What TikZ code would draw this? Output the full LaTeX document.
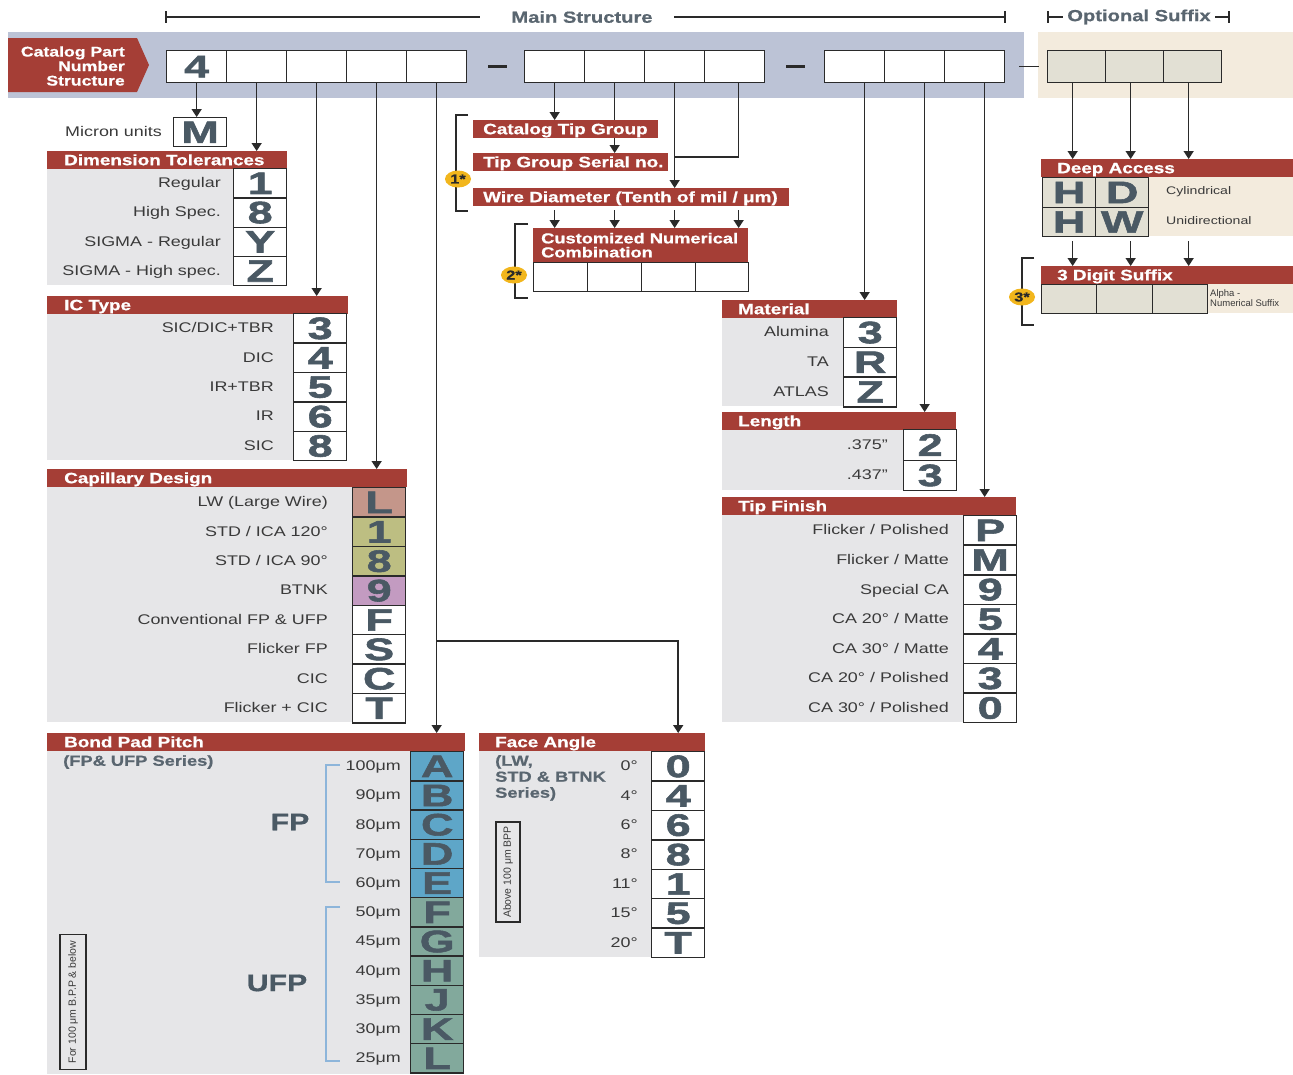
\documentclass[tikz,border=0pt]{standalone}
\usepackage{fontspec}
\usetikzlibrary{arrows.meta,calc,shapes.geometric}
\newfontfamily\hfam[FakeStretch=1.28]{Liberation Sans}
\newfontfamily\hbfam[FakeStretch=1.26,FakeBold=0.7]{Liberation Sans}
\newfontfamily\bigfam[FakeStretch=1.45,FakeBold=1.8]{Liberation Sans}
\newfontfamily\smfam{Liberation Sans}
\newcommand\myhf{\hbfam\bfseries\fontsize{15}{17}\selectfont}
\newcommand\mylf{\hfam\fontsize{14}{16}\selectfont}
\newcommand\mybigf{\bigfam\bfseries\fontsize{31}{31}\selectfont}
\newcommand\mysbf{\hbfam\bfseries\fontsize{14.5}{16}\selectfont}
\newcommand\mymsf{\hbfam\bfseries\fontsize{16}{18}\selectfont}
\newcommand\mycpf{\hbfam\bfseries\fontsize{14}{14.5}\selectfont}
\newcommand\myfpf{\hbfam\bfseries\fontsize{24}{24}\selectfont}
\newcommand\myrotf{\smfam\fontsize{10.5}{12}\selectfont}
\newcommand\mydaf{\hfam\fontsize{11}{13}\selectfont}
\newcommand\mytinyf{\smfam\fontsize{9.5}{10.5}\selectfont}
\newcommand\mybdf{\hbfam\bfseries\fontsize{13}{13}\selectfont}
\definecolor{rd}{HTML}{A53E36}
\definecolor{pan}{HTML}{E6E6E8}
\definecolor{band}{HTML}{BCC3D6}
\definecolor{beige}{HTML}{F3EBDD}
\definecolor{cellb}{HTML}{E2E0D4}
\definecolor{ltr}{HTML}{4A5964}
\definecolor{labc}{HTML}{3A3A3A}
\definecolor{subc}{HTML}{5A6670}
\definecolor{cL}{HTML}{C4968A}
\definecolor{cOl}{HTML}{BDBE82}
\definecolor{cPu}{HTML}{C39BC1}
\definecolor{cBl}{HTML}{5EA6C8}
\definecolor{cTe}{HTML}{82A99C}
\definecolor{brk}{HTML}{8DB5DA}
\definecolor{ylw}{HTML}{F2B61C}
\definecolor{ln}{HTML}{2A2A2A}
\pgfdeclarelayer{back}
\pgfdeclarelayer{lines}
\pgfsetlayers{back,lines,main}
\tikzset{
 cell/.style={draw=ln, line width=1.4pt, fill=white, minimum width=53pt, minimum height=29.4pt, inner sep=0pt, anchor=north west, text=ltr, font=\mybigf},
 lab/.style={anchor=east, text=labc, font=\mylf, inner sep=0pt, text height=10pt, text depth=0pt},
 hdrbox/.style={fill=rd, text=white, font=\myhf, anchor=north west, inner sep=0pt, minimum height=18pt, text height=11pt, text depth=1pt},
 arr/.style={draw=ln, line width=1.5pt, -{Triangle[width=10pt,length=8pt]}},
 conn/.style={draw=ln, line width=1.5pt},
 topbox/.style={draw=ln, line width=1.3pt, fill=white, minimum width=60pt, minimum height=32pt, inner sep=0pt, anchor=north west, font=\mybigf, text=ltr},
 sufbox/.style={topbox, fill=cellb, minimum width=58pt},
 badge/.style={ellipse, fill=ylw, minimum width=26pt, minimum height=17pt, inner sep=0pt, font=\mybdf, text=ln},
 brkt/.style={draw=ln, line width=1.5pt},
 rotbox/.style={draw=ln, line width=1.3pt, rotate=90, font=\myrotf, text=labc, inner sep=1pt},
}
\newcommand\myhdr[6]{\node[hdrbox] (#1) at (#2,#3) {\hbox to #4pt{\hspace{#5pt}#6\hfil}};}
\begin{document}
\begin{tikzpicture}[x=1pt,y=-1pt]
\useasboundingbox (0,0) rectangle (1293,1074);
\begin{pgfonlayer}{back}
\fill[white] (0,0) rectangle (1293,1074);
\fill[band] (8,32) rectangle (1024,98);
\fill[beige] (1038,32) rectangle (1293,98);
\fill[rd] (8,38) -- (137,38) -- (149,65) -- (137,92) -- (8,92) -- cycle;
\fill[pan] (47,168) rectangle (285,285);
\fill[pan] (47,313) rectangle (346,460);
\fill[pan] (47,487) rectangle (405,722);
\fill[pan] (47,751) rectangle (463,1074);
\fill[pan] (479,751) rectangle (704,957);
\fill[pan] (722,317) rectangle (895,406);
\fill[pan] (722,429) rectangle (955,490);
\fill[pan] (722,515) rectangle (1015,722);
\fill[beige] (1095,177) rectangle (1293,236);
\fill[beige] (1207,284) rectangle (1293,313);
\end{pgfonlayer}

% titles
\node[font=\mymsf, text=subc] (mst) at (582,17) {Main Structure};
\draw[ln, line width=1.2pt] (166,17) -- ($(mst.west)+(-28,0)$);
\draw[ln, line width=1.2pt] (166,11) -- (166,23);
\draw[ln, line width=1.2pt] ($(mst.east)+(18,0)$) -- (1005,17);
\draw[ln, line width=1.2pt] (1005,11) -- (1005,23);
\node[font=\mymsf, text=subc] (osf) at (1139,17) {Optional Suffix};
\draw[ln, line width=1.2pt] (1048,11) -- (1048,23);
\draw[ln, line width=1.2pt] (1048,17) -- ($(osf.west)+(-1,0)$);
\draw[ln, line width=1.2pt] ($(osf.east)+(1,0)$) -- (1229,17);
\draw[ln, line width=1.2pt] (1229,11) -- (1229,23);

\node[anchor=east, align=right, text=white, font=\mycpf, inner sep=0pt] (cpn) at (125,66) {Catalog Part\\Number\\Structure};

% top boxes
\node[topbox] (g1a) at (166,50) {4};
\node[topbox] (g1b) at (226,50) {};
\node[topbox] (g1c) at (286,50) {};
\node[topbox] (g1d) at (346,50) {};
\node[topbox] (g1e) at (406,50) {};
\node[topbox] (g2a) at (524,50) {};
\node[topbox] (g2b) at (584,50) {};
\node[topbox] (g2c) at (644,50) {};
\node[topbox] (g2d) at (704,50) {};
\node[topbox] (g3a) at (824,50) {};
\node[topbox] (g3b) at (884,50) {};
\node[topbox] (g3c) at (944,50) {};
\node[sufbox] (g4a) at (1047,50) {};
\node[sufbox] (g4b) at (1105,50) {};
\node[sufbox] (g4c) at (1163,50) {};
\draw[ln, line width=2.5pt] ($(g1e.east)+(21,0)$) -- ($(g1e.east)+(40,0)$);
\draw[ln, line width=2.5pt] ($(g2d.east)+(21,0)$) -- ($(g2d.east)+(40,0)$);
\draw[ln, line width=1.5pt] ($(g3c.east)+(14,0)$) -- ($(g3c.east)+(34,0)$);

% Micron units
\node[cell, minimum height=29pt] (mu) at (173,117) {M};
\node[lab] at (162,131) {Micron units};

% Dimension Tolerances
\myhdr{dth}{47}{151}{240}{17}{Dimension Tolerances}
\foreach \lbl/\ltr [count=\i] in {{Regular}/1,{High Spec.}/8,{SIGMA - Regular}/Y,{SIGMA - High spec.}/Z}{
  \node[cell, minimum height=29.25pt] (dt\i) at (233,{168+(\i-1)*29.25}) {\ltr};
  \node[lab] at (221,{168+(\i-0.5)*29.25}) {\lbl};
}

% IC Type
\myhdr{ich}{47}{296}{301}{17}{IC Type}
\foreach \lbl/\ltr [count=\i] in {{SIC/DIC+TBR}/3,{DIC}/4,{IR+TBR}/5,{IR}/6,{SIC}/8}{
  \node[cell] (ic\i) at (293,{313+(\i-1)*29.4}) {\ltr};
  \node[lab] at (274,{313+(\i-0.5)*29.4}) {\lbl};
}

% Capillary Design
\myhdr{caph}{47}{469}{360}{17}{Capillary Design}
\foreach \lbl/\ltr/\fc [count=\i] in {{LW (Large Wire)}/L/cL,{STD / ICA 120°}/1/cOl,{STD / ICA 90°}/8/cOl,{BTNK}/9/cPu,{Conventional FP \& UFP}/F/white,{Flicker FP}/S/white,{CIC}/C/white,{Flicker + CIC}/T/white}{
  \node[cell, fill=\fc] (cap\i) at (352,{487+(\i-1)*29.4}) {\ltr};
  \node[lab] at (328,{487+(\i-0.5)*29.4}) {\lbl};
}

% Bond Pad Pitch
\myhdr{bpph}{47}{733}{418}{17}{Bond Pad Pitch}
\node[anchor=west, font=\mysbf, text=subc, inner sep=0pt] (bpsub) at (63,762) {(FP\& UFP Series)};
\foreach \lbl/\ltr/\fc [count=\i] in {{100μm}/A/cBl,{90μm}/B/cBl,{80μm}/C/cBl,{70μm}/D/cBl,{60μm}/E/cBl,{50μm}/F/cTe,{45μm}/G/cTe,{40μm}/H/cTe,{35μm}/J/cTe,{30μm}/K/cTe,{25μm}/L/cTe}{
  \node[cell, fill=\fc, minimum height=29.2pt] (bp\i) at (410,{751+(\i-1)*29.2}) {\ltr};
  \node[lab] at (401,{751+(\i-0.5)*29.2}) {\lbl};
}
\draw[brk, line width=1.3pt] (340,765) -- (326,765) -- (326,882) -- (340,882);
\draw[brk, line width=1.3pt] (340,907) -- (326,907) -- (326,1061) -- (340,1061);
\node[font=\myfpf, text=ltr] (fpt) at (290,822) {FP};
\node[font=\myfpf, text=ltr] (ufpt) at (277,983) {UFP};
\node[rotbox, minimum width=135pt, minimum height=26pt] (bpnote) at (73,1002) {For 100 μm B.P.P \& below};

% Face Angle
\myhdr{fah}{479}{733}{226}{16}{Face Angle}
\node[anchor=north west, align=left, font=\mysbf, text=subc, inner sep=0pt] (fasub) at (495,755) {(LW,\\STD \& BTNK\\Series)};
\foreach \lbl/\ltr [count=\i] in {{0°}/0,{4°}/4,{6°}/6,{8°}/8,{11°}/1,{15°}/5,{20°}/T}{
  \node[cell] (fa\i) at (651,{751+(\i-1)*29.4}) {\ltr};
  \node[lab] at (638,{751+(\i-0.5)*29.4}) {\lbl};
}
\node[rotbox, minimum width=100pt, minimum height=24pt] (fanote) at (508,872) {Above 100 μm BPP};

% Catalog tip group etc.
\myhdr{ctg}{473}{120}{185}{10}{Catalog Tip Group}
\myhdr{tgs}{473}{153}{195}{10}{Tip Group Serial no.}
\myhdr{wd}{473}{188}{316}{10}{Wire Diameter (Tenth of mil / μm)}
\node[hdrbox, minimum height=34pt, text height=, text depth=, font=\mysbf] (cnc) at (533,228)
  {\hbox to 215pt{\hspace{8pt}\vbox{\baselineskip=14pt\hbox{Customized Numerical}\hbox{Combination}}\hfil}};
\node[cell, minimum width=54pt, minimum height=29pt] (cn1) at (533,262) {};
\node[cell, minimum width=54pt, minimum height=29pt] (cn2) at (587,262) {};
\node[cell, minimum width=54pt, minimum height=29pt] (cn3) at (641,262) {};
\node[cell, minimum width=53pt, minimum height=29pt] (cn4) at (695,262) {};
\draw[brkt] (468,115) -- (456,115) -- (456,211) -- (468,211);
\node[badge] (b1) at (458,179) {1*};
\draw[brkt] (528,224) -- (515,224) -- (515,298) -- (528,298);
\node[badge] (b2) at (514,275) {2*};

% Material
\myhdr{math}{722}{300}{175}{16}{Material}
\foreach \lbl/\ltr [count=\i] in {{Alumina}/3,{TA}/R,{ATLAS}/Z}{
  \node[cell, minimum height=29.7pt] (ma\i) at (843,{317+(\i-1)*29.7}) {\ltr};
  \node[lab] at (829,{317+(\i-0.5)*29.7}) {\lbl};
}

% Length
\myhdr{lenh}{722}{412}{234}{16}{Length}
\foreach \lbl/\ltr [count=\i] in {{.375”}/2,{.437”}/3}{
  \node[cell, minimum height=30.5pt] (le\i) at (903,{429+(\i-1)*30.5}) {\ltr};
  \node[lab] at (888,{429+(\i-0.5)*30.5}) {\lbl};
}

% Tip Finish
\myhdr{tfh}{722}{497}{294}{16}{Tip Finish}
\foreach \lbl/\ltr [count=\i] in {{Flicker / Polished}/P,{Flicker / Matte}/M,{Special CA}/9,{CA 20° / Matte}/5,{CA 30° / Matte}/4,{CA 20° / Polished}/3,{CA 30° / Polished}/0}{
  \node[cell] (tf\i) at (963,{515+(\i-1)*29.6}) {\ltr};
  \node[lab] at (949,{515+(\i-0.5)*29.6}) {\lbl};
}

% Deep Access
\myhdr{dah}{1041}{159}{252}{16}{Deep Access}
\node[cell, fill=cellb, minimum height=29.5pt] (da1) at (1042,177) {H};
\node[cell, fill=cellb, minimum height=29.5pt] (da2) at (1095,177) {D};
\node[cell, fill=cellb, minimum height=29.5pt] (da3) at (1042,206.5) {H};
\node[cell, fill=cellb, minimum height=29.5pt] (da4) at (1095,206.5) {W};
\node[anchor=west, font=\mydaf, text=labc, inner sep=0pt] (cyl) at (1166,192) {Cylindrical};
\node[anchor=west, font=\mydaf, text=labc, inner sep=0pt] (uni) at (1166,221) {Unidirectional};

% 3 Digit Suffix
\myhdr{tds}{1041}{266}{252}{16}{3 Digit Suffix}
\node[cell, fill=cellb, minimum width=55pt, minimum height=29pt] (sf1) at (1041,284) {};
\node[cell, fill=cellb, minimum width=56pt, minimum height=29pt] (sf2) at (1096,284) {};
\node[cell, fill=cellb, minimum width=55pt, minimum height=29pt] (sf3) at (1152,284) {};
\node[anchor=west, align=left, font=\mytinyf, text=labc, inner sep=0pt] (ans) at (1210,298) {Alpha -\\Numerical Suffix};
\draw[brkt] (1034,258) -- (1022,258) -- (1022,325) -- (1034,325);
\node[badge] (b3) at (1022,297) {3*};

% connectors
\begin{pgfonlayer}{lines}
\draw[arr] (g1a.south) -- (mu.north -| g1a.south);
\draw[arr] (g1b.south) -- (dth.north -| g1b.south);
\draw[arr] (g1c.south) -- (ich.north -| g1c.south);
\draw[arr] (g1d.south) -- (caph.north -| g1d.south);
\draw[arr] (g1e.south) -- (bpph.north -| g1e.south);
\draw[arr] (g1e.south |- 0,641) -| (fah.north -| fa1.center);
\draw[arr] (g2a.south) -- (ctg.north -| g2a.south);
\draw[arr] (g2b.south) -- (tgs.north -| g2b.south);
\draw[arr] (g2c.south) -- (wd.north -| g2c.south);
\coordinate (p2d) at ($(g2d.south)+(4,0)$);
\draw[conn] (p2d) |- (g2c.south |- 0,157);
\foreach \c in {g2a.south,g2b.south,g2c.south,p2d}{
  \draw[arr] ($(wd.south -| \c)+(0,4)$) -- (cnc.north -| \c);
}
\coordinate (p3a) at ($(g3a.south)+(10,0)$);
\coordinate (p3b) at ($(g3b.south)+(10,0)$);
\coordinate (p3c) at ($(g3c.south)+(10,0)$);
\draw[arr] (p3a) -- (math.north -| p3a);
\draw[arr] (p3b) -- (lenh.north -| p3b);
\draw[arr] (p3c) -- (tfh.north -| p3c);
\coordinate (p4a) at ($(g4a.south)+(-4,0)$);
\coordinate (p4b) at ($(g4b.south)+(-4,0)$);
\coordinate (p4c) at ($(g4c.south)+(-4,0)$);
\foreach \c in {p4a,p4b,p4c}{
  \draw[arr] (\c) -- (dah.north -| \c);
  \draw[arr] ($(da3.south -| \c)+(0,4)$) -- (tds.north -| \c);
}
\end{pgfonlayer}
\end{tikzpicture}
\end{document}
